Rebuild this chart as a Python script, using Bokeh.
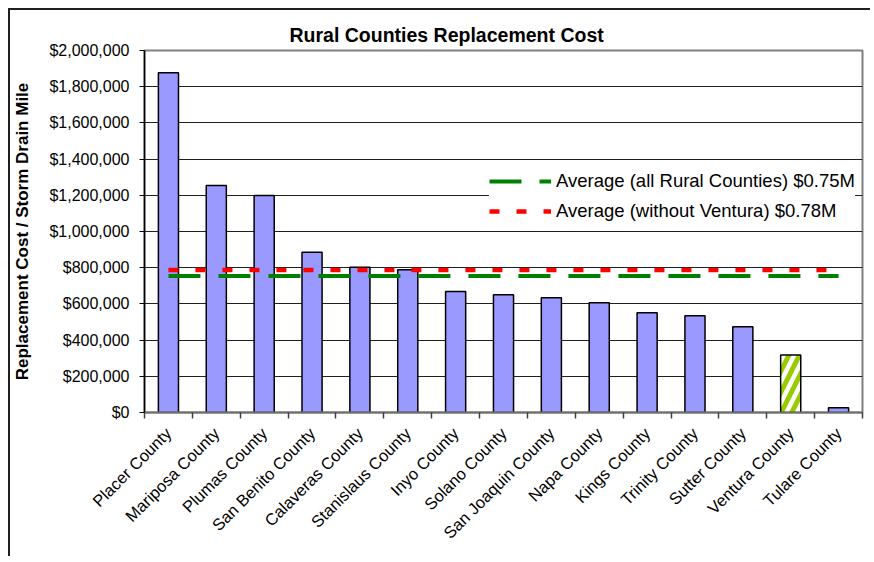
import math
from bokeh.plotting import figure
from bokeh.models import (FactorRange, Range1d, LinearAxis, CategoricalAxis, FixedTicker,
                          NumeralTickFormatter, Legend, LegendItem, ColumnDataSource)
from bokeh.embed import file_html
from bokeh.resources import INLINE

# ---------------- data ----------------
counties = ["Placer County", "Mariposa County", "Plumas County", "San Benito County",
            "Calaveras County", "Stanislaus County", "Inyo County", "Solano County",
            "San Joaquin County", "Napa County", "Kings County", "Trinity County",
            "Sutter County", "Ventura County", "Tulare County"]
costs = [1877000, 1254000, 1199000, 885000, 802000, 789000, 668000, 651000,
         634000, 607000, 551000, 535000, 474000, 317000, 26000]
hatched_counties = ["Ventura County"]
avg_all = 754000
avg_without_ventura = 787000
legend_labels = ["Average (all Rural Counties) $0.75M", "Average (without Ventura) $0.78M"]
y_ticks = [0, 200000, 400000, 600000, 800000, 1000000, 1200000, 1400000, 1600000,
           1800000, 2000000]
title_text = "Rural Counties Replacement Cost"
y_title = "Replacement Cost / Storm Drain Mile"

FONT = "Liberation Sans"

# figure shifted 10px in from the page corner; chart-area border (top & left) via shadow
p = figure(width=862, height=548, x_range=FactorRange(*counties),
           y_range=Range1d(y_ticks[0], y_ticks[-1]),
           output_backend="svg", toolbar_location=None, x_axis_location=None,
           min_border_left=133, min_border_right=10, min_border_top=40,
           min_border_bottom=146)
p.styles = {"position": "relative", "left": "10px", "top": "10px",
            "box-shadow": "-2px -2px 0px 0px #202020"}

p.background_fill_color = "white"
p.border_fill_color = "white"
p.outline_line_color = "#808080"
p.outline_line_width = 2

# title
p.title.text = title_text
p.title.align = "left"
p.title.offset = 145
p.title.text_font = FONT
p.title.text_font_size = "19.5px"
p.title.text_font_style = "bold"
p.title.text_color = "black"

# y axis
yax = p.yaxis[0]
yax.ticker = FixedTicker(ticks=y_ticks)
yax.formatter = NumeralTickFormatter(format="$0,0")
yax.major_label_text_font = FONT
yax.major_label_text_font_size = "16px"
yax.major_label_text_color = "black"
yax.major_tick_out = 5
yax.major_tick_in = 0
yax.minor_tick_out = 0
yax.minor_tick_in = 0
yax.major_label_standoff = 10
yax.axis_line_color = "black"
yax.axis_line_width = 1.5
yax.major_tick_line_color = "black"
yax.axis_label = y_title
yax.axis_label_text_font = FONT
yax.axis_label_text_font_size = "17px"
yax.axis_label_text_font_style = "bold"
yax.axis_label_text_color = "black"
yax.axis_label_standoff = 14

p.xgrid.visible = False
p.ygrid.ticker = FixedTicker(ticks=y_ticks)
p.ygrid.grid_line_color = "#202020"
p.ygrid.grid_line_width = 1

# bars
src = ColumnDataSource(dict(
    county=counties,
    cost=costs,
    fill=["white" if c in hatched_counties else "#9999FF" for c in counties],
    hatch=["/" if c in hatched_counties else " " for c in counties],
))
p.vbar(x="county", top="cost", width=0.42, source=src, fill_color="fill",
       hatch_pattern="hatch", hatch_color="#99CC00", hatch_weight=5, hatch_scale=21,
       line_color="black", line_width=1.5)

# average lines
g = p.line(counties, [avg_all] * len(counties), line_color="#008000", line_width=4,
           line_dash="32 18")
r = p.line(counties, [avg_without_ventura] * len(counties), line_color="#FF0000",
           line_width=4.5, line_dash="10 17")

legend = Legend(items=[LegendItem(label=legend_labels[0], renderers=[g]),
                       LegendItem(label=legend_labels[1], renderers=[r])],
                location=(345, 190), padding=10, margin=0, spacing=8,
                glyph_width=62, glyph_height=20, label_height=20, label_standoff=5,
                label_text_font=FONT, label_text_font_size="18.5px",
                label_text_color="black", border_line_color=None,
                background_fill_color="white", background_fill_alpha=1.0)
p.add_layout(legend)

# x axes: category-boundary ticks (numeric positions on the factor range), then labels
tick_axis = LinearAxis(ticker=FixedTicker(ticks=list(range(len(counties) + 1))),
                       major_label_text_font_size="1px", major_label_text_color=None,
                       major_label_standoff=0,
                       major_tick_out=6, major_tick_in=0, minor_tick_out=0, minor_tick_in=0,
                       axis_line_color="#707070", axis_line_width=2,
                       major_tick_line_color="#404040", major_tick_line_width=1.5)
p.add_layout(tick_axis, "below")
label_axis = CategoricalAxis(major_tick_out=0, major_tick_in=0, axis_line_color=None,
                             major_label_orientation=math.pi / 4, major_label_standoff=12,
                             major_label_text_font=FONT, major_label_text_font_size="16.5px",
                             major_label_text_color="black")
p.add_layout(label_axis, "below")

open("out.html", "w").write(file_html(p, INLINE))
